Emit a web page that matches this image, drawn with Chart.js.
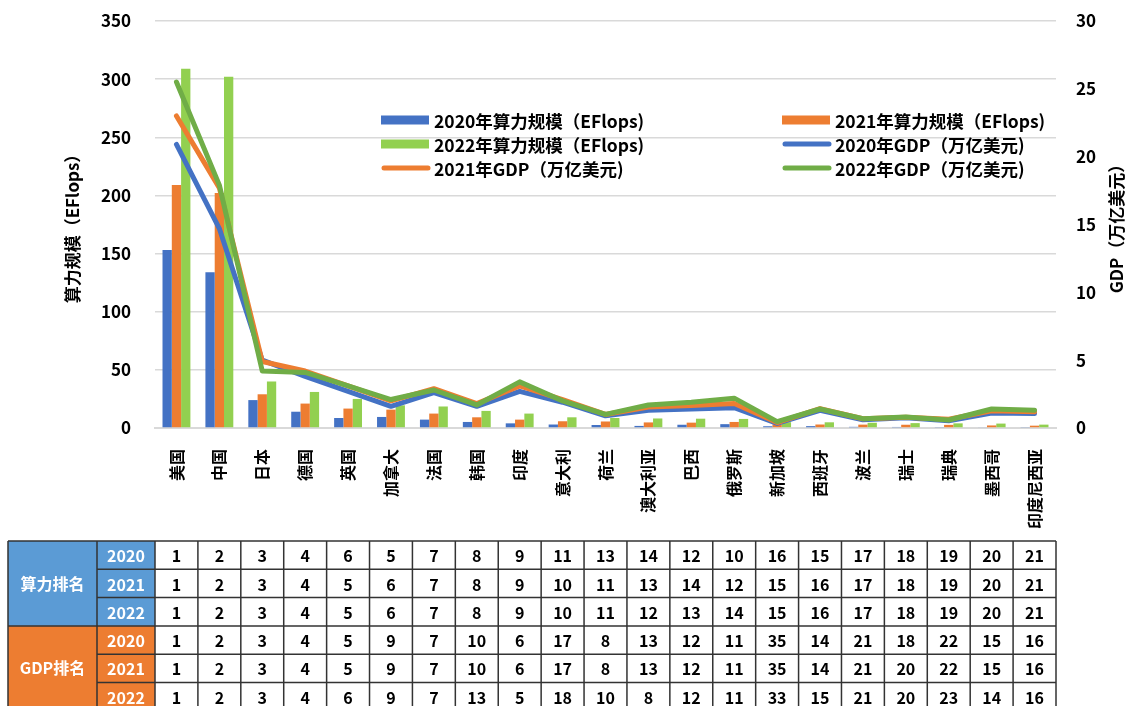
<!DOCTYPE html>
<html>
<head>
<meta charset="utf-8">
<script src="https://cdn.jsdelivr.net/npm/chart.js@4.4.1/dist/chart.umd.min.js"></script>
<style>
  html, body { margin: 0; padding: 0; background: #fff; }
</style>
</head>
<body>
<canvas id="chart" width="1130" height="706"></canvas>
<script>
// 国家（按2022年算力排名）
const countries = ['美国', '中国', '日本', '德国', '英国', '加拿大', '法国', '韩国', '印度', '意大利', '荷兰',
  '澳大利亚', '巴西', '俄罗斯', '新加坡', '西班牙', '波兰', '瑞士', '瑞典', '墨西哥', '印度尼西亚'];

// 算力规模 (EFlops)
const compute2020 = [153, 134, 24, 14, 8.6, 9.5, 7.2, 5.2, 4.0, 3.0, 2.6, 1.8, 2.8, 3.3, 1.5, 1.6, 1.0, 0.9, 0.8, 0.7, 0.5];
const compute2021 = [209, 202, 29, 21, 16.7, 15.8, 12.4, 9.2, 7.2, 5.8, 5.6, 4.8, 4.6, 5.2, 3.2, 3.0, 2.9, 2.8, 2.7, 2.2, 2.0];
const compute2022 = [309, 302, 40, 31, 25, 19.5, 18.5, 14.7, 12.4, 9.2, 8.6, 8.2, 8.0, 7.8, 5.0, 4.9, 4.5, 4.2, 4.0, 3.8, 2.9];

// GDP (万亿美元)
const gdp2020 = [20.9, 14.7, 5.0, 3.8, 2.7, 1.6, 2.6, 1.6, 2.7, 1.9, 0.9, 1.3, 1.4, 1.5, 0.34, 1.3, 0.6, 0.75, 0.54, 1.1, 1.06];
const gdp2021 = [23.0, 17.7, 4.9, 4.2, 3.1, 2.0, 2.9, 1.8, 3.1, 2.1, 1.0, 1.55, 1.65, 1.8, 0.4, 1.43, 0.68, 0.8, 0.64, 1.27, 1.19];
const gdp2022 = [25.5, 17.9, 4.2, 4.1, 3.1, 2.1, 2.8, 1.7, 3.4, 2.0, 1.0, 1.7, 1.9, 2.2, 0.47, 1.4, 0.69, 0.81, 0.59, 1.4, 1.3];

// 排名表
const computeRank2020 = [1, 2, 3, 4, 6, 5, 7, 8, 9, 11, 13, 14, 12, 10, 16, 15, 17, 18, 19, 20, 21];
const computeRank2021 = [1, 2, 3, 4, 5, 6, 7, 8, 9, 10, 11, 13, 14, 12, 15, 16, 17, 18, 19, 20, 21];
const computeRank2022 = [1, 2, 3, 4, 5, 6, 7, 8, 9, 10, 11, 12, 13, 14, 15, 16, 17, 18, 19, 20, 21];
const gdpRank2020 = [1, 2, 3, 4, 5, 9, 7, 10, 6, 17, 8, 13, 12, 11, 35, 14, 21, 18, 22, 15, 16];
const gdpRank2021 = [1, 2, 3, 4, 5, 9, 7, 10, 6, 17, 8, 13, 12, 11, 35, 14, 21, 20, 22, 15, 16];
const gdpRank2022 = [1, 2, 3, 4, 6, 9, 7, 13, 5, 18, 10, 8, 12, 11, 33, 15, 21, 20, 23, 14, 16];

const years = ['2020', '2021', '2022'];
const leftTicks = [0, 50, 100, 150, 200, 250, 300, 350];
const rightTicks = [0, 5, 10, 15, 20, 25, 30];

const BLUE = '#4472C4', ORANGE = '#ED7D31', LIGHTGREEN = '#92D050', GREEN = '#70AD47';
const FONT = '"Noto Sans CJK SC", "Open Sans", sans-serif';

// 图例（画在绘图区内，两列三行）
const legendPlugin = {
  id: 'customLegend',
  afterDraw(chart) {
    const ctx = chart.ctx;
    const items = [
      ['2020年算力规模（EFlops)', BLUE, 'bar'],
      ['2021年算力规模（EFlops)', ORANGE, 'bar'],
      ['2022年算力规模（EFlops)', LIGHTGREEN, 'bar'],
      ['2020年GDP（万亿美元)', BLUE, 'line'],
      ['2021年GDP（万亿美元)', ORANGE, 'line'],
      ['2022年GDP（万亿美元)', GREEN, 'line']
    ];
    ctx.save();
    ctx.font = 'bold 17.5px ' + FONT;
    ctx.textBaseline = 'middle';
    items.forEach((it, i) => {
      const x = i % 2 === 0 ? 381 : 782;
      const y = 120 + Math.floor(i / 2) * 24;
      if (it[2] === 'bar') {
        ctx.fillStyle = it[1];
        ctx.fillRect(x, y - 4.5, 48, 9);
      } else {
        ctx.strokeStyle = it[1];
        ctx.lineWidth = 5;
        ctx.lineCap = 'round';
        ctx.beginPath();
        ctx.moveTo(x + 3, y);
        ctx.lineTo(x + 47, y);
        ctx.stroke();
      }
      ctx.fillStyle = '#000';
      ctx.fillText(it[0], x + 53, y + 1);
    });
    ctx.restore();
  }
};

// 右轴标题（自下而上）
const rightTitlePlugin = {
  id: 'rightTitle',
  afterDraw(chart) {
    const ctx = chart.ctx;
    const area = chart.chartArea;
    ctx.save();
    ctx.translate(1117, (area.top + area.bottom) / 2);
    ctx.rotate(-Math.PI / 2);
    ctx.font = 'bold 17px ' + FONT;
    ctx.textAlign = 'center';
    ctx.textBaseline = 'middle';
    ctx.fillStyle = '#000';
    ctx.fillText('GDP（万亿美元）', 0, 0);
    ctx.restore();
  }
};

// 底部排名表，列与x轴类目对齐
const tablePlugin = {
  id: 'rankTable',
  afterDraw(chart) {
    const ctx = chart.ctx;
    const xs = chart.scales.x;
    const rows = [computeRank2020, computeRank2021, computeRank2022, gdpRank2020, gdpRank2021, gdpRank2022];
    const top = 541, rh = 28.3;
    const half = (xs.getPixelForValue(1) - xs.getPixelForValue(0)) / 2;
    const gx0 = 8, gx1 = 97, gx2 = xs.getPixelForValue(0) - half;
    const right = xs.getPixelForValue(countries.length - 1) + half;
    ctx.save();
    // 分组单元格
    [['算力排名', '#5B9BD5'], ['GDP排名', ORANGE]].forEach((g, gi) => {
      const y = top + gi * 3 * rh;
      ctx.fillStyle = g[1];
      ctx.fillRect(gx0, y, gx1 - gx0, rh * 3);
      ctx.fillRect(gx1, y, gx2 - gx1, rh * 3);
      ctx.fillStyle = '#fff';
      ctx.font = 'bold 16px ' + FONT;
      ctx.textAlign = 'center';
      ctx.textBaseline = 'middle';
      ctx.fillText(g[0], (gx0 + gx1) / 2, y + rh * 1.5);
      years.forEach((yr, yi) => {
        ctx.fillText(yr, (gx1 + gx2) / 2, y + rh * (yi + 0.5) + 1);
      });
    });
    // 数字
    ctx.fillStyle = '#000';
    ctx.font = 'bold 16px ' + FONT;
    ctx.textAlign = 'center';
    ctx.textBaseline = 'middle';
    rows.forEach((r, ri) => {
      r.forEach((v, ci) => {
        ctx.fillText(String(v), xs.getPixelForValue(ci), top + rh * (ri + 0.5) + 1);
      });
    });
    // 边框
    ctx.strokeStyle = '#333';
    ctx.lineWidth = 1.5;
    ctx.beginPath();
    for (let r = 0; r <= rows.length; r++) {
      const y = top + r * rh;
      const startX = (r % 3 === 0) ? gx0 : gx1;
      ctx.moveTo(startX, y);
      ctx.lineTo(right, y);
    }
    const bottom = top + rows.length * rh;
    [gx0, gx1, gx2].forEach(x => { ctx.moveTo(x, top); ctx.lineTo(x, bottom); });
    for (let c = 0; c < countries.length; c++) {
      const x = xs.getPixelForValue(c) + half;
      ctx.moveTo(x, top);
      ctx.lineTo(x, bottom);
    }
    ctx.stroke();
    ctx.restore();
  }
};

function barSet(label, data, color, order) {
  return { type: 'bar', label, data, backgroundColor: color, yAxisID: 'y', order,
    categoryPercentage: 0.65, barPercentage: 1.0 };
}
function lineSet(label, data, color, order) {
  return { type: 'line', label, data, borderColor: color, backgroundColor: color, yAxisID: 'y1', order,
    borderWidth: 5, pointRadius: 0, tension: 0, borderCapStyle: 'round', borderJoinStyle: 'round', fill: false };
}

// 纵轴的刻度间距不参与绘图区上下留白
function fixVertical(width) {
  return function (scale) {
    scale.width = width;
    scale.paddingTop = 0;
    scale.paddingBottom = 0;
  };
}

const ctx = document.getElementById('chart').getContext('2d');
new Chart(ctx, {
  data: {
    labels: countries,
    datasets: [
      barSet('2020年算力规模（EFlops)', compute2020, BLUE, 3),
      barSet('2021年算力规模（EFlops)', compute2021, ORANGE, 4),
      barSet('2022年算力规模（EFlops)', compute2022, LIGHTGREEN, 5),
      lineSet('2020年GDP（万亿美元)', gdp2020, BLUE, 2),
      lineSet('2021年GDP（万亿美元)', gdp2021, ORANGE, 1),
      lineSet('2022年GDP（万亿美元)', gdp2022, GREEN, 0)
    ]
  },
  options: {
    responsive: false,
    animation: false,
    layout: { padding: { top: 21, right: 0, bottom: 278 - 112, left: 0 } },
    plugins: {
      legend: { display: false },
      tooltip: { enabled: false }
    },
    scales: {
      x: {
        grid: { display: false },
        border: { color: '#d9d9d9', width: 2 },
        ticks: {
          color: '#000', minRotation: 90, maxRotation: 90, padding: 13, autoSkip: false,
          font: { family: FONT, size: 16, weight: 'bold' }
        },
        afterFit(scale) { scale.height = 112; }
      },
      y: {
        position: 'left',
        min: 0, max: 350,
        afterBuildTicks(scale) { scale.ticks = leftTicks.map(v => ({ value: v })); },
        grid: { color: '#d9d9d9', lineWidth: 1.5, drawTicks: false },
        border: { display: false },
        ticks: { color: '#000', padding: 24, font: { family: FONT, size: 17, weight: 'bold' } },
        title: {
          display: true, text: '算力规模（EFlops）', color: '#000',
          font: { family: FONT, size: 17, weight: 'bold' }, padding: { top: 62, bottom: 0 }
        },
        afterFit: fixVertical(155)
      },
      y1: {
        position: 'right',
        min: 0, max: 30,
        afterBuildTicks(scale) { scale.ticks = rightTicks.map(v => ({ value: v })); },
        grid: { display: false, drawTicks: false },
        border: { display: false },
        ticks: { color: '#000', padding: 20, font: { family: FONT, size: 17, weight: 'bold' } },
        afterFit: fixVertical(74)
      }
    }
  },
  plugins: [legendPlugin, rightTitlePlugin, tablePlugin]
});
</script>
</body>
</html>
